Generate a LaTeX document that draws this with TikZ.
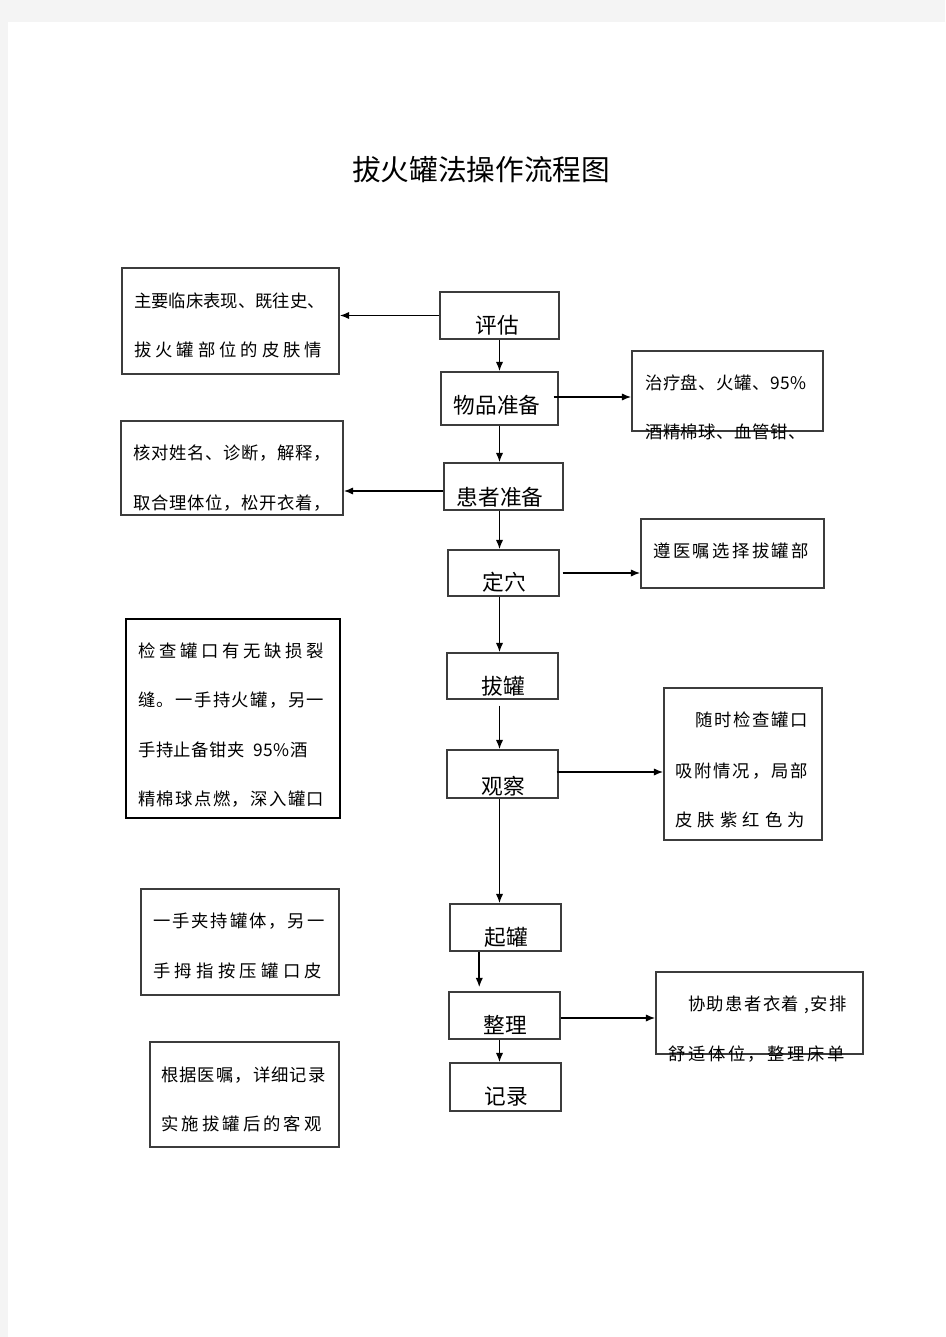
\documentclass[tikz,border=0pt]{standalone}
\usepackage{fontspec}
\setmainfont{Noto Sans CJK SC}
\usepackage{tikz}
\usepackage{xcolor}
\usetikzlibrary{fit}
\usetikzlibrary{calc}
\usetikzlibrary{arrows.meta}
\definecolor{pagegray}{RGB}{244,244,244}
\definecolor{edgegray}{RGB}{60,60,60}
\newcommand{\trk}[2]{{\addfontfeatures{LetterSpace=#1}#2}}
\tikzset{
  box/.style={draw=edgegray, line width=1.1pt, inner sep=0pt},
  line/.style={anchor=west, inner sep=0pt, font=\fontsize{13}{15}\selectfont},
  stage/.style={inner sep=0pt, font=\fontsize{16.25}{18}\selectfont},
  arr/.style={-{Latex[length=7pt,width=5.5pt]}, line width=1.2pt}
}

\begin{document}
\begin{tikzpicture}[x=0.75pt,y=0.75pt,yscale=-1,xscale=1]
%Page background
\fill[pagegray] (0,0) rectangle (945,1337);
\fill[white] (8,22) rectangle (945,1337);
\useasboundingbox (0,0) rectangle (945,1337);

% Text Node
\node[inner sep=0pt, font=\fontsize{21.5}{24}\selectfont] (title) at (481,170) {拔火罐法操作流程图};

%Shape: Rectangle (main column)
\node[box, fit={(440,292) (559,339)}] (pg) {};
\node[box, fit={(441,372) (558,425)}] (wp) {};
\node[box, fit={(444,463) (563,510)}] (hz) {};
\node[box, fit={(448,550) (559,596)}] (dx) {};
\node[box, fit={(447,653) (558,699)}] (bg) {};
\node[box, fit={(447,750) (558,798)}] (gc) {};
\node[box, fit={(450,904) (561,951)}] (qg) {};
\node[box, fit={(449,992) (560,1039)}] (zl) {};
\node[box, fit={(450,1063) (561,1111)}] (jl) {};

%Shape: Rectangle (left notes)
\node[box, fit={(122,268) (339,374)}] (l1) {};
\node[box, fit={(121,421) (343,515)}] (l2) {};
\node[box, draw=black, line width=1.5pt, fit={(126,619) (340,818)}] (l3) {};
\node[box, fit={(141,889) (339,995)}] (l4) {};
\node[box, fit={(150,1042) (339,1147)}] (l5) {};

%Shape: Rectangle (right notes)
\node[box, fit={(632,351) (823,431)}] (r1) {};
\node[box, fit={(641,519) (824,588)}] (r2) {};
\node[box, fit={(664,688) (822,840)}] (r3) {};
\node[box, fit={(656,972) (863,1054)}] (r4) {};

%Straight Lines (down the main column)
\draw[arr] (pg.south) -- (pg.south |- wp.north);
\draw[arr] (pg.south |- wp.south) -- (pg.south |- hz.north);
\draw[arr] (pg.south |- hz.south) -- (pg.south |- dx.north);
\draw[arr] (pg.south |- dx.south) -- (pg.south |- bg.north);
\coordinate (bgs) at ($(pg.south |- bg.south)+(0,6)$);
\draw[arr] (bgs) -- (bgs |- gc.north);
\draw[arr] (pg.south |- gc.south) -- (pg.south |- qg.north);
\coordinate (qgs) at ($(qg.south west)+(30,0)$);
\draw[arr] (qgs) -- ($(qgs |- zl.north)+(0,-4)$);
\draw[arr] (pg.south |- zl.south) -- (pg.south |- jl.north);

%Straight Lines (to the notes)
\draw[arr] (pg.west) -- (pg.west -| l1.east);
\coordinate (wpe) at ($(wp.east)+(-5,-1.5)$);
\draw[arr] (wpe) -- (wpe -| r1.west);
\coordinate (hzw) at ($(hz.west)+(0,4.5)$);
\draw[arr] (hzw) -- (hzw -| l2.east);
\coordinate (dxe) at ($(dx.east)+(3,0)$);
\draw[arr] (dxe) -- (dxe -| r2.west);
\coordinate (gce) at ($(gc.east)+(-2,-2)$);
\draw[arr] (gce) -- (gce -| r3.west);
\coordinate (zle) at ($(zl.east)+(0,2.5)$);
\draw[arr] (zle) -- (zle -| r4.west);

% Text Node (main column)
\node[stage] (pgt) at (497,325) {评估};
\node[stage] (wpt) at (497,405) {物品准备};
\node[stage] (hzt) at (500,497) {患者准备};
\node[stage] (dxt) at (504,582) {定穴};
\node[stage] (bgt) at (503,686) {拔罐};
\node[stage] (gct) at (503,786) {观察};
\node[stage] (qgt) at (506,937) {起罐};
\node[stage] (zlt) at (505,1025) {整理};
\node[stage] (jlt) at (506,1097) {记录};

% Text Node (left notes)
\node[line] (l1a) at (134,301) {主要临床表现、既往史、};
\node[line] (l1b) at (134,350) {\trk{23}{拔火罐部位的皮肤情}};
\node[line] (l2a) at (133,453) {\trk{4}{核对姓名、诊断，解释，}};
\node[line] (l2b) at (133,503) {\trk{4}{取合理体位，松开衣着，}};
\node[line] (l3a) at (138,651) {\trk{21}{检查罐口有无缺损裂}};
\node[line] (l3b) at (138,700) {\trk{8}{缝。一手持火罐，另一}};
\node[line] (l3c) at (138,750) {\trk{3}{手持止备钳夹\ \ 95\%酒}};
\node[line] (l3d) at (138,799) {\trk{8}{精棉球点燃，深入罐口}};
\node[line] (l4a) at (153,921) {\trk{11}{一手夹持罐体，另一}};
\node[line] (l4b) at (153,971) {\trk{25}{手拇指按压罐口皮}};
\node[line] (l5a) at (161,1075) {\trk{6}{根据医嘱，详细记录}};
\node[line] (l5b) at (161,1124) {\trk{18}{实施拔罐后的客观}};

% Text Node (right notes)
\node[line] (r1a) at (645,383) {\trk{3}{治疗盘、火罐、95\%}};
\node[line] (r1b) at (645,432) {\trk{3}{酒精棉球、血管钳、}};
\node[line] (r2a) at (653,551) {\trk{14}{遵医嘱选择拔罐部}};
\node[line] (r3a) at (695,720) {\trk{10}{随时检查罐口}};
\node[line] (r3b) at (675,771) {\trk{11}{吸附情况，局部}};
\node[line] (r3c) at (675,820) {\trk{30}{皮肤紫红色为}};
\node[line] (r4a) at (688,1005) {\trk{8}{协助患者衣着 ,安排}};
\node[line] (r4b) at (668,1054) {\trk{15}{舒适体位，整理床单}};

\end{tikzpicture}
\end{document}
